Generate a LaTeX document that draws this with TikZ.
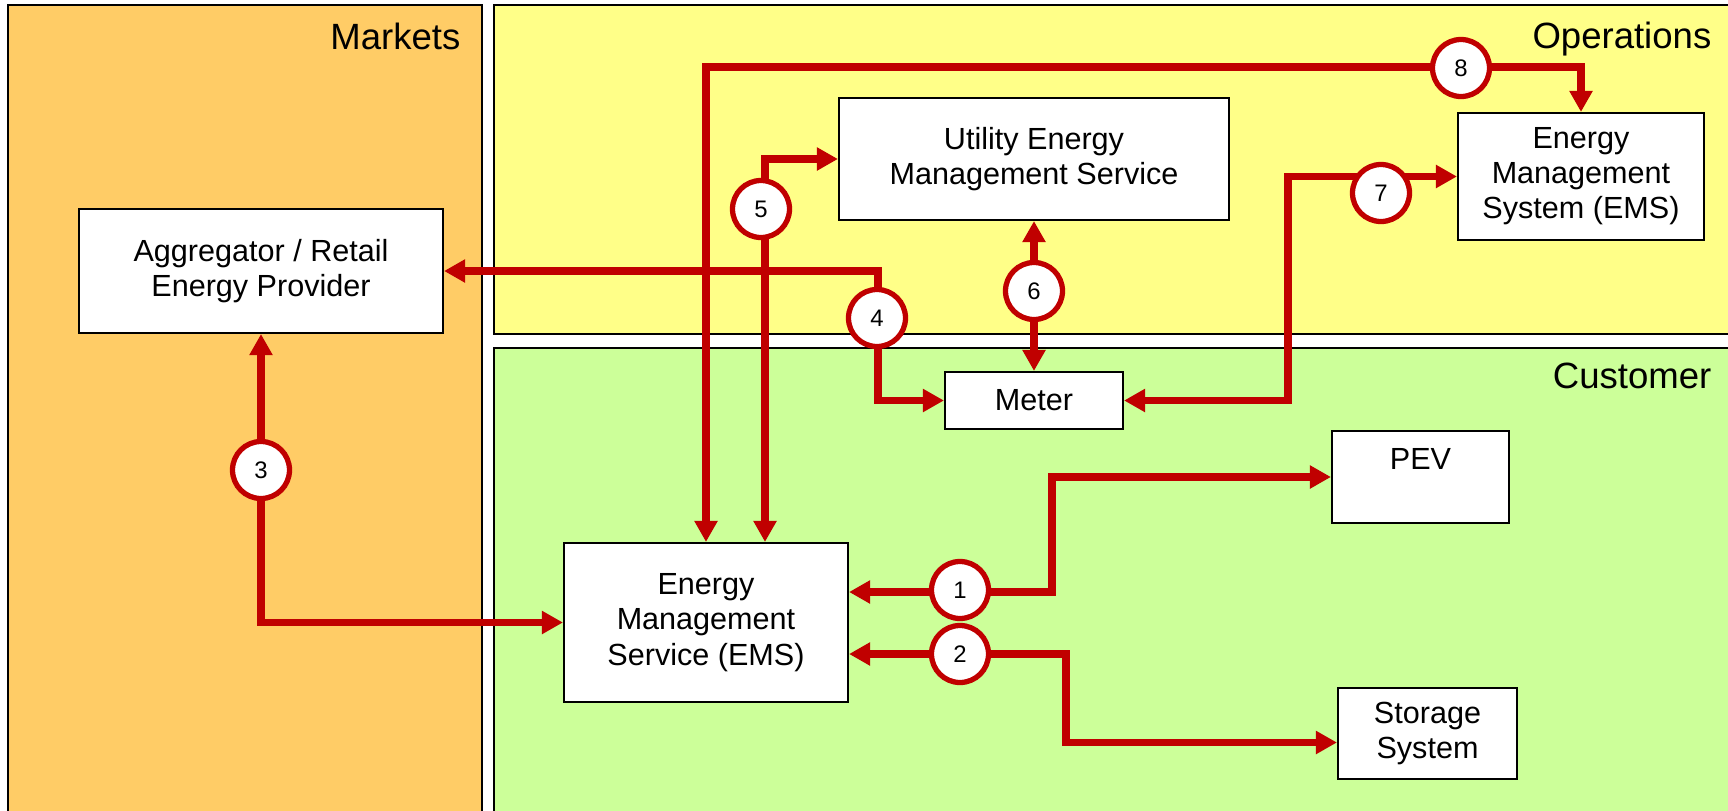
\documentclass[tikz,border=0pt]{standalone}
\usepackage{fontspec}
\setmainfont{Liberation Sans}
\usetikzlibrary{arrows.meta, positioning}

\definecolor{mktOrange}{HTML}{FFCC66}
\definecolor{opsYellow}{HTML}{FFFF88}
\definecolor{custGreen}{HTML}{CCFF99}
\definecolor{linkRed}{HTML}{C00000}

\begin{document}
\begin{tikzpicture}[
		% Style for the three domain panels
		panel/.style={draw=black, line width=0.6pt},
		panelTitle/.style={font=\fontsize{10.4}{12}\selectfont, anchor=base east, inner sep=0pt},
		% Style for the white boxes
		box/.style={draw=black, fill=white, line width=0.6pt, align=center, inner sep=1pt,
			font=\fontsize{8.7}{10}\selectfont},
		% Numbered discs on the links
		numdisk/.style={circle, draw=linkRed, line width=1.5pt, fill=white, minimum size=0.57cm,
			inner sep=0pt, font=\fontsize{6.8}{8}\selectfont},
		% Red links with a head at both ends
		link/.style={draw=linkRed, line width=2pt,
			{Triangle[length=2.1mm, width=2.2mm]}-{Triangle[length=2.1mm, width=2.2mm]}}
	]
	\useasboundingbox (0,0) rectangle (17.28,8.10);
	
	% ==============================================================================
	% PANELS
	% ==============================================================================
	\draw[panel, fill=mktOrange] (0.08,8.05) rectangle (4.82,-0.05);
	\draw[panel, fill=opsYellow] (4.94,8.05) rectangle (17.40,4.76);
	\draw[panel, fill=custGreen] (4.94,4.62) rectangle (17.40,-0.05);
	
	\node[panelTitle] (tMkt) at (4.61,7.61) {Markets};
	\node[panelTitle] (tOps) at (17.12,7.62) {Operations};
	\node[panelTitle] (tCust) at (17.12,4.22) {Customer};
	
	% ==============================================================================
	% BOXES
	% ==============================================================================
	\node[box, minimum width=3.64cm, minimum height=1.24cm] (agg) at (2.61,5.39) {Aggregator / Retail\\Energy Provider};
	\node[box, minimum width=3.90cm, minimum height=1.22cm] (uems) at (10.34,6.51) {Utility Energy\\Management Service};
	\node[box, minimum width=2.46cm, minimum height=1.27cm] (emsys) at (15.81,6.335) {Energy\\Management\\System (EMS)};
	\node[box, minimum width=1.78cm, minimum height=0.57cm] (meter) at (10.34,4.095) {Meter};
	\node[box, minimum width=1.77cm, minimum height=0.92cm] (pev) at (14.205,3.33) {PEV\\~};
	\node[box, minimum width=2.84cm, minimum height=1.59cm] (emserv) at (7.06,1.875) {Energy\\Management\\Service (EMS)};
	\node[box, minimum width=1.79cm, minimum height=0.91cm] (store) at (14.275,0.765) {Storage\\System};
	
	% ==============================================================================
	% LINKS
	% ==============================================================================
	\coordinate (k1) at (10.52,2.18);
	\coordinate (k2) at (10.66,1.56);
	\coordinate (k4) at (8.78,4.90);
	\coordinate (k7) at (12.88,5.00);
	\coordinate (k8) at (10.00,7.43);
	
	\draw[link] (emserv.east |- k1) -- (k1) |- (pev.west);
	\draw[link] (emserv.east |- k2) -- (k2) |- ([yshift=-0.9mm]store.west);
	\draw[link] (agg.south) |- (emserv.west);
	\draw[link] (agg.east) -| (k4) |- (meter.west);
	\draw[link] ([xshift=5.9mm]emserv.north) |- (uems.west);
	\draw[link] (uems.south) -- (meter.north);
	\draw[link] (meter.east) -| (k7) |- (emsys.west);
	\draw[link] (emserv.north) |- (k8) -| (emsys.north);
	
	% Step numbers on top of the links
	\node[numdisk] (n1) at (9.60,2.20) {1};
	\node[numdisk] (n2) at (9.60,1.56) {2};
	\node[numdisk] (n3) at (2.61,3.40) {3};
	\node[numdisk] (n4) at (8.77,4.92) {4};
	\node[numdisk] (n5) at (7.61,6.01) {5};
	\node[numdisk] (n6) at (10.34,5.19) {6};
	\node[numdisk] (n7) at (13.81,6.17) {7};
	\node[numdisk] (n8) at (14.61,7.42) {8};
	
\end{tikzpicture}
\end{document}
